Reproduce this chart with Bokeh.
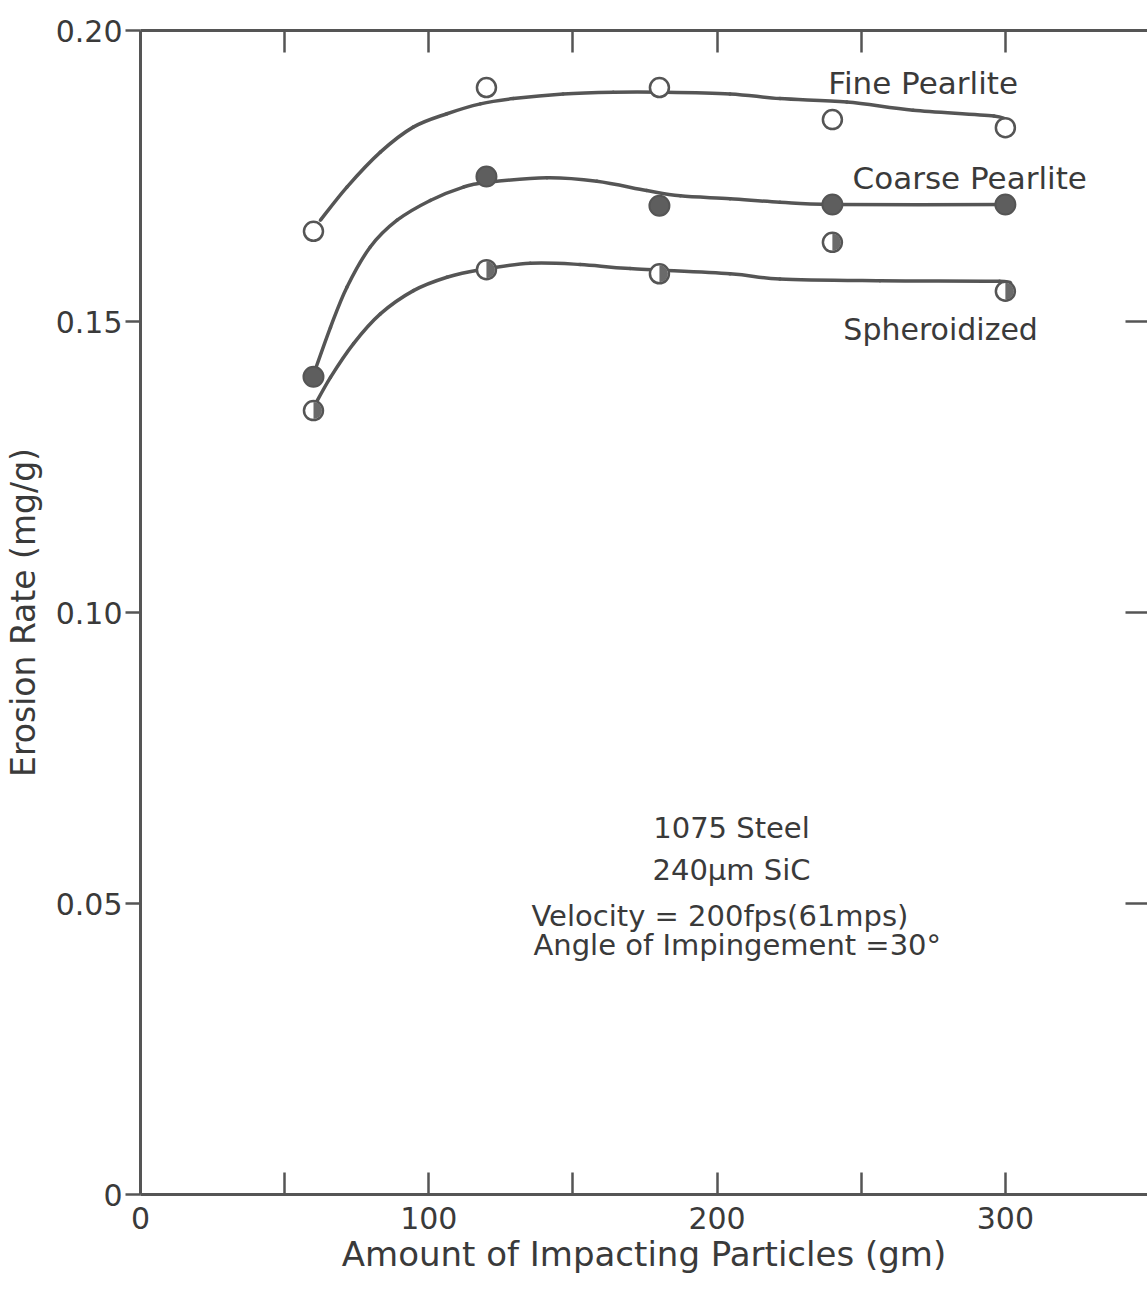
import math
import numpy as np
from bokeh.plotting import figure
from bokeh.models import Range1d, FixedTicker, LinearAxis
from bokeh.core.properties import value
from bokeh.embed import file_html
from bokeh.resources import INLINE

# ---- data ----
x_amount = [60, 120, 180, 240, 300]
fine_y = [0.1655, 0.1902, 0.1902, 0.1847, 0.1833]
coarse_y = [0.1405, 0.1749, 0.1699, 0.1701, 0.1701]
spher_y = [0.1347, 0.1589, 0.1582, 0.1636, 0.1552]

# hand-drawn fitted curves
fine_curve_x = [62.4, 71.6, 83.2, 94.6, 106.3, 117.9, 129.3, 146.6, 164.0, 181.3, 204.5, 221.8, 245.0, 268.0, 296.0, 301.0]
fine_curve_y = [0.1674, 0.1731, 0.1791, 0.1834, 0.1857, 0.1874, 0.1883, 0.1891, 0.1894, 0.1894, 0.1891, 0.1883, 0.1877, 0.1863, 0.1853, 0.1843]
coarse_curve_x = [60.1, 65.9, 71.6, 79.7, 89.0, 100.5, 112.0, 120.2, 141.0, 158.3, 175.6, 187.2, 204.5, 221.8, 240.9, 301.2]
coarse_curve_y = [0.1410, 0.1490, 0.1559, 0.1628, 0.1674, 0.1708, 0.1731, 0.1739, 0.1747, 0.1741, 0.1725, 0.1716, 0.1711, 0.1705, 0.1701, 0.1701]
spher_curve_x = [60.1, 65.9, 73.9, 83.2, 94.7, 106.3, 117.9, 135.2, 152.5, 169.8, 204.5, 221.8, 256.5, 298.0, 300.2]
spher_curve_y = [0.1353, 0.1404, 0.1462, 0.1513, 0.1553, 0.1576, 0.1589, 0.1600, 0.1598, 0.1591, 0.1582, 0.1573, 0.1570, 0.1569, 0.1562]

x_ticks = [0, 100, 200, 300]
x_minor = [50, 100, 150, 200, 250, 300]
y_ticks = [0, 0.05, 0.10, 0.15, 0.20]
y_labels = ["0", "0.05", "0.10", "0.15", "0.20"]
y_right_ticks = [0.05, 0.10, 0.15]
series_names = ["Fine Pearlite", "Coarse Pearlite", "Spheroidized"]
note_lines = ["1075 Steel", "240\u03bcm SiC", "Velocity = 200fps(61mps)", "Angle of Impingement =30\u00b0"]

INK = "#555555"
TXT = "#3a3a3a"
FONT = "DejaVu Sans"

p = figure(width=1147, height=1292, output_backend="svg", toolbar_location=None,
           x_range=Range1d(0, 349.3), y_range=Range1d(0, 0.2),
           min_border_left=140, min_border_top=30, min_border_bottom=98, min_border_right=0,
           background_fill_color="white", border_fill_color="white")
p.outline_line_color = None
p.xgrid.visible = False
p.ygrid.visible = False

# bottom axis
xa = p.xaxis[0]
xa.ticker = FixedTicker(ticks=x_ticks, minor_ticks=x_minor)
xa.major_tick_in = 0
xa.major_tick_out = 0
xa.minor_tick_in = 22
xa.minor_tick_out = 0
xa.minor_tick_line_width = 2.5
xa.minor_tick_line_color = INK
xa.axis_line_color = INK
xa.axis_line_width = 3
xa.major_label_text_font = FONT
xa.major_label_text_font_size = "30px"
xa.major_label_text_color = TXT
xa.major_label_standoff = 12
xa.axis_label = "Amount of Impacting Particles (gm)"
xa.axis_label_text_font = FONT
xa.axis_label_text_font_size = "34px"
xa.axis_label_text_font_style = "normal"
xa.axis_label_text_color = TXT
xa.axis_label_standoff = 2

# left axis
ya = p.yaxis[0]
ya.ticker = FixedTicker(ticks=y_ticks)
ya.major_label_overrides = {t: s for t, s in zip(y_ticks, y_labels)}
ya.major_tick_in = 0
ya.major_tick_out = 15
ya.major_tick_line_width = 2.5
ya.major_tick_line_color = INK
ya.axis_line_color = INK
ya.axis_line_width = 3
ya.major_label_text_font = FONT
ya.major_label_text_font_size = "30px"
ya.major_label_text_color = TXT
ya.major_label_standoff = 3
ya.axis_label = "Erosion Rate (mg/g)"
ya.axis_label_text_font = FONT
ya.axis_label_text_font_size = "33px"
ya.axis_label_text_font_style = "normal"
ya.axis_label_text_color = TXT
ya.axis_label_standoff = 10

# top axis (inward ticks only, no labels)
ta = LinearAxis(ticker=FixedTicker(ticks=[], minor_ticks=x_minor))
ta.major_tick_in = 0
ta.major_tick_out = 0
ta.minor_tick_in = 22
ta.minor_tick_out = 0
ta.minor_tick_line_width = 2.5
ta.minor_tick_line_color = INK
ta.axis_line_color = INK
ta.axis_line_width = 3
ta.major_label_standoff = 0
p.add_layout(ta, "above")

# right axis (inward ticks only, no labels)
ra = LinearAxis(ticker=FixedTicker(ticks=[], minor_ticks=y_right_ticks))
ra.major_tick_in = 0
ra.major_tick_out = 0
ra.minor_tick_in = 22
ra.minor_tick_out = 0
ra.minor_tick_line_width = 2.5
ra.minor_tick_line_color = INK
ra.axis_line_color = None
ra.major_label_standoff = 0
p.add_layout(ra, "right")


def smooth_bezier(xs, ys):
    P = np.column_stack([xs, ys]).astype(float)
    Pp = np.vstack([P[:1], P, P[-1:]])
    a, b = Pp[1:-2], Pp[2:-1]
    prev, nxt = Pp[:-3], Pp[3:]
    c0 = a + (b - prev) / 6.0
    c1 = b - (nxt - a) / 6.0
    return dict(x0=a[:, 0], y0=a[:, 1], x1=b[:, 0], y1=b[:, 1],
                cx0=c0[:, 0], cy0=c0[:, 1], cx1=c1[:, 0], cy1=c1[:, 1])


for cx, cy in [(fine_curve_x, fine_curve_y), (coarse_curve_x, coarse_curve_y), (spher_curve_x, spher_curve_y)]:
    p.bezier(line_color=INK, line_width=3.5, line_cap="round", **smooth_bezier(cx, cy))

# markers: fine = open, coarse = filled, spheroidized = half filled
p.scatter(x_amount, fine_y, size=19, marker="circle", fill_color="white",
          line_color=INK, line_width=2.5)
p.scatter(x_amount, coarse_y, size=20, marker="circle", fill_color="#5e5e5e",
          line_color=INK, line_width=2)
p.scatter(x_amount, spher_y, size=19, marker="circle", fill_color="white",
          line_color=INK, line_width=2.5)
p.wedge(x_amount, spher_y, radius=8.5, radius_units="screen",
        start_angle=-math.pi / 2, end_angle=math.pi / 2,
        fill_color="#6a6a6a", line_color=None)

# series labels
p.text([238.6], [0.1909], text=[series_names[0]], text_font=value(FONT), text_font_size="31px",
       text_color=TXT, text_align="left", text_baseline="middle")
p.text([247.0], [0.1746], text=[series_names[1]], text_font=value(FONT), text_font_size="31px",
       text_color=TXT, text_align="left", text_baseline="middle")
p.text([243.8], [0.1486], text=[series_names[2]], text_font=value(FONT), text_font_size="30px",
       text_color=TXT, text_align="left", text_baseline="middle")

# note block
p.text([205, 205, 201, 207], [0.0629, 0.0557, 0.0479, 0.0428], text=note_lines,
       text_font=value(FONT), text_font_size="29px", text_color=TXT,
       text_align="center", text_baseline="middle")

open("out.html", "w").write(file_html(p, INLINE))
